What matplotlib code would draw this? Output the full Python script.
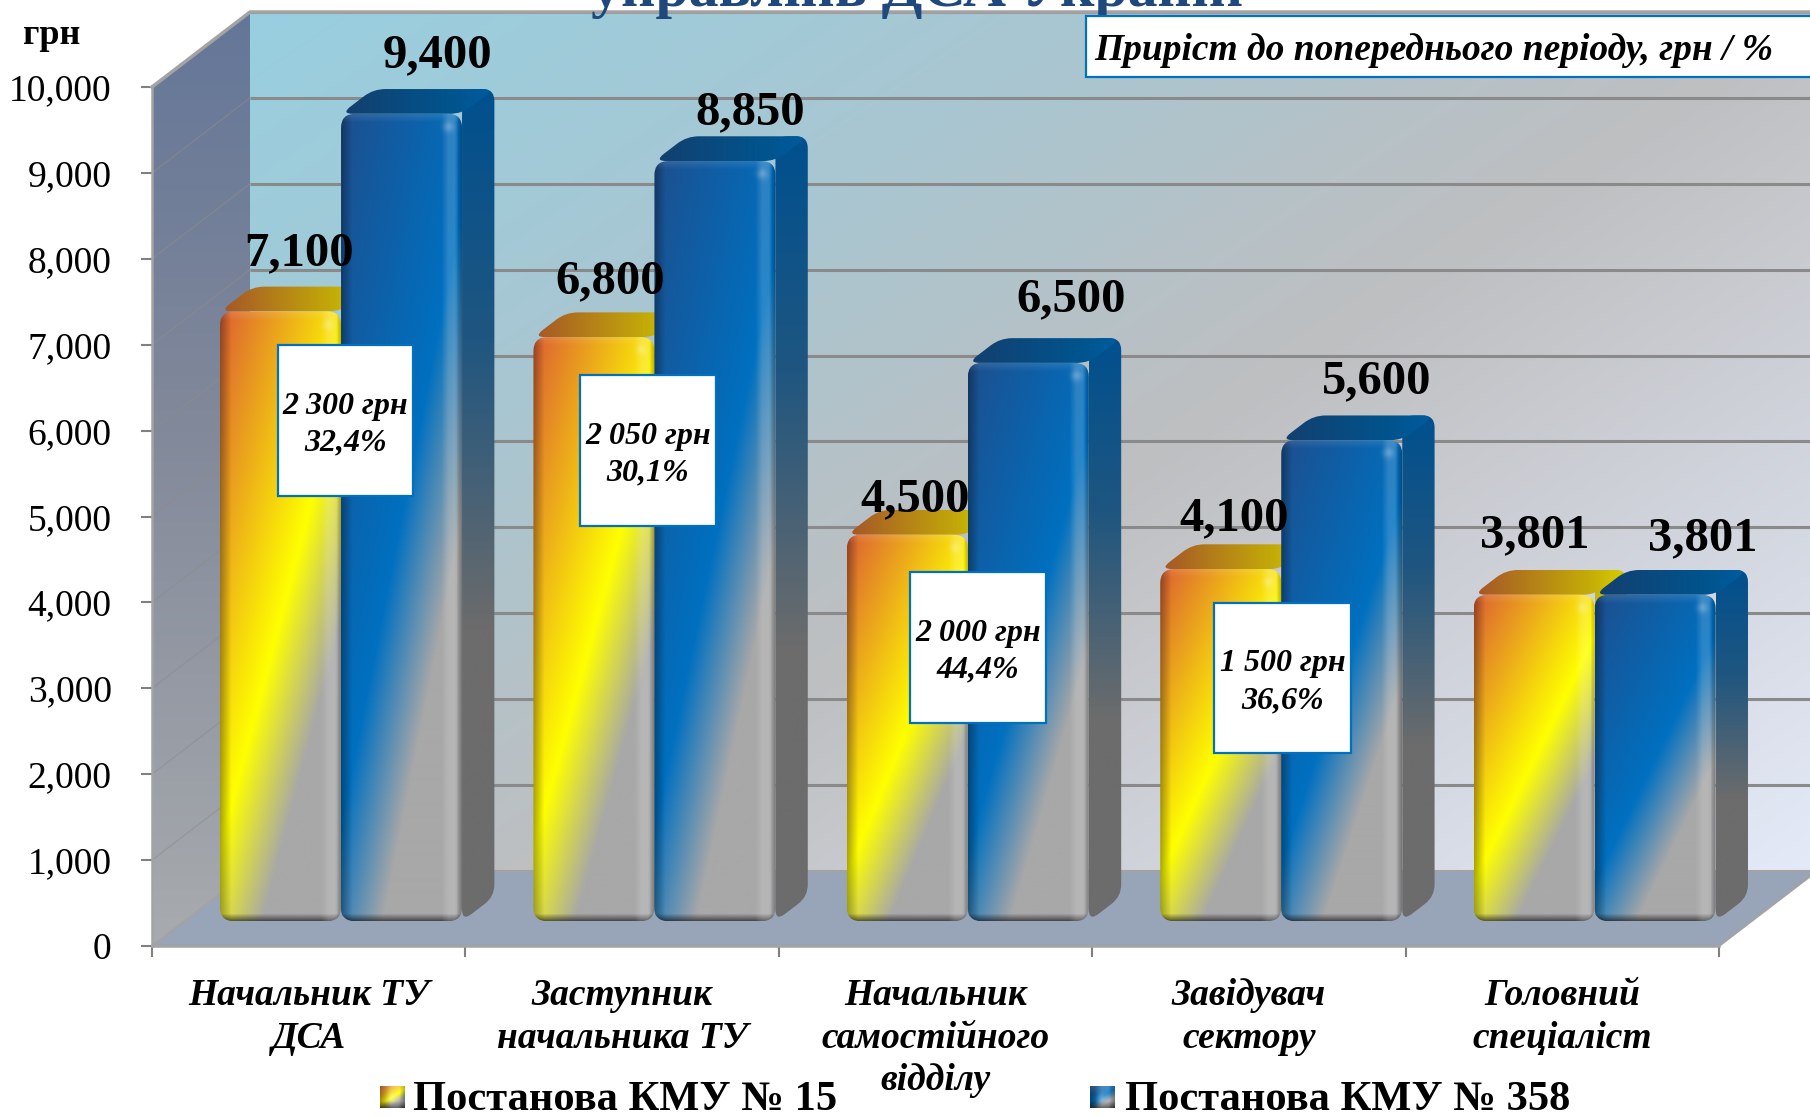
import numpy as np
import matplotlib
matplotlib.use('Agg')
import matplotlib.pyplot as plt
from matplotlib.colors import to_rgb
from matplotlib.path import Path
from matplotlib.patches import PathPatch, Rectangle
from matplotlib.ticker import StrMethodFormatter

plt.rcParams['font.family'] = ['Liberation Serif', 'DejaVu Serif']

# --- data ---
categories = ['Начальник ТУ\nДСА', 'Заступник\nначальника ТУ', 'Начальник\nсамостійного\nвідділу',
              'Завідувач\nсектору', 'Головний\nспеціаліст']
kmu_15 = [7100, 6800, 4500, 4100, 3801]
kmu_358 = [9400, 8850, 6500, 5600, 3801]
increase_uah = ['2 300 грн', '2 050 грн', '2 000 грн', '1 500 грн']
increase_pct = ['32,4%', '30,1%', '44,4%', '36,6%']
y_ticks = [0, 1000, 2000, 3000, 4000, 5000, 6000, 7000, 8000, 9000, 10000]

# --- layout (pixels of the 1810x1116 picture) ---
W, H = 1810, 1116
PLOT_L, PLOT_R, PLOT_T, PLOT_B = 152, 1719, 87, 946
SX = (PLOT_R - PLOT_L) / 5          # px per category
SY = (PLOT_B - PLOT_T) / 10000      # px per hryvnia
DX, DY = 98 / SX, 75 / SY           # full chart depth in data units
BAR_W = 121 / SX
BAR_D0, BAR_D1 = 0.33, 0.66         # bar front/back inside the depth

# per label pixel nudges from the bar top
nudge_15 = [(19, 58), (16, 56), (8, 35), (13, 51), (1, 59)]
nudge_358 = [(36, 59), (35, 49), (43, 64), (35, 59), (48, 56)]
# white boxes: left, top, right, bottom
boxes = [(278, 345, 413, 496), (580, 375, 716, 526), (910, 572, 1046, 723), (1214, 603, 1351, 753)]


def project(x, v, d):
    return x + d * DX, v + d * DY


def ramp(t, stops):
    # piecewise colour ramp over t in 0..1
    pos = [s[0] for s in stops]
    cols = np.array([to_rgb(s[1]) for s in stops])
    return np.stack([np.interp(t, pos, cols[:, i]) for i in range(3)], axis=-1)


def rounded(points, r=9):
    # closed path with corners rounded by r pixels, points in data units
    pts = np.array(points, dtype=float)
    n = len(pts)
    verts, codes = [], []
    for i in range(n):
        p, a, b = pts[i], pts[i - 1], pts[(i + 1) % n]
        va = (a - p) * [SX, SY]
        vb = (b - p) * [SX, SY]
        ra = min(r, np.hypot(*va) / 2)
        rb = min(r, np.hypot(*vb) / 2)
        p1 = p + va / np.hypot(*va) * ra / [SX, SY]
        p2 = p + vb / np.hypot(*vb) * rb / [SX, SY]
        verts += [p1, p, p2]
        codes += [Path.MOVETO if i == 0 else Path.LINETO, Path.CURVE3, Path.CURVE3]
    verts.append(verts[0])
    codes.append(Path.CLOSEPOLY)
    return Path(verts, codes)


def paint(ax, img, x0, x1, y0, y1, clip_path, z):
    im = ax.imshow(img, extent=(x0, x1, y0, y1), aspect='auto', origin='upper',
                   interpolation='bilinear', zorder=z)
    patch = PathPatch(clip_path, transform=ax.transData, fc='none', ec='none')
    ax.add_patch(patch)
    im.set_clip_box(fig.bbox)
    im.set_clip_path(patch)
    return im


def front_image(nx, ny, stops):
    u, v = np.meshgrid(np.linspace(0, 1, nx), np.linspace(0, 1, ny))
    t = 0.43 * u + 0.57 * v
    img = ramp(t, stops)
    xpx = u * nx
    ypx = v * ny
    # bevel: dark left and bottom, light stripe near the right edge
    img *= (0.68 + 0.32 * np.clip(xpx / 11, 0, 1))[..., None]
    img *= (0.45 + 0.55 * np.clip((ny - ypx) / 7, 0, 1))[..., None]
    light = np.clip((xpx - (nx - 20)) / 7, 0, 1) * np.clip(((nx - 3) - xpx) / 4, 0, 1) * 0.16
    img = img * (1 - light[..., None]) + light[..., None]
    img *= (0.72 + 0.28 * np.clip((nx - xpx) / 5, 0, 1))[..., None]
    top = np.clip(1 - ypx / 9, 0, 1)[..., None] * 0.12
    img = img * (1 - top) + top
    # small highlight on the top right corner
    spot = (np.exp(-((xpx - (nx - 13)) ** 2 + (ypx - 13) ** 2) / 30) * 0.25)[..., None]
    return np.clip(img * (1 - spot) + spot, 0, 1)


YELLOW = [(0, '#DC5F33'), (0.5, '#FFFF00'), (0.72, '#A8A8A8'), (1, '#A8A8A8')]
BLUE = [(0, '#1D4F8E'), (0.5, '#0070C0'), (0.72, '#A8A8A8'), (1, '#A8A8A8')]
YELLOW_SIDE = [(0, '#C9C000'), (0.55, '#8E8A40'), (1, '#6E6E6E')]
BLUE_SIDE = [(0, '#00508F'), (0.3, '#1F5680'), (0.65, '#6C6C6C'), (1, '#6C6C6C')]
YELLOW_TOP = [(0, '#A55528'), (0.75, '#C4AC08'), (1, '#D8D000')]
BLUE_TOP = [(0, '#133F6E'), (0.75, '#00558F'), (1, '#005C9F')]


def draw_bar(ax, xc, value, front, side, topc, z):
    x0, x1 = xc - BAR_W / 2, xc + BAR_W / 2
    fx0, fb = project(x0, 0, BAR_D0)
    fx1, ft = project(x1, value, BAR_D0)
    bx1, bt = project(x1, value, BAR_D1)
    bx0 = project(x0, value, BAR_D1)[0]
    bb = project(x1, 0, BAR_D1)[1]

    # side face, runs up under the top face so no notch shows at the back corner
    ny = int((bt - fb) * SY)
    t = np.linspace(0, 1, ny)[:, None].repeat(8, axis=1)
    path = rounded([(fx1, fb), (bx1, bb), (bx1, bt), (fx1, bt)], 12)
    paint(ax, ramp(t, side), fx1, bx1, fb, bt, path, z)

    # top face
    t = np.linspace(0, 1, 120)[None, :].repeat(8, axis=0)
    path = rounded([(fx0, ft), (fx1, ft), (bx1, bt), (bx0, bt)], 12)
    paint(ax, ramp(t, topc), fx0, bx1, ft, bt, path, z + 0.1)

    # front face
    nx, ny = int((fx1 - fx0) * SX), int((ft - fb) * SY)
    path = rounded([(fx0, fb), (fx1, fb), (fx1, ft), (fx0, ft)], 14)
    paint(ax, front_image(nx, ny, front), fx0, fx1, fb, ft, path, z + 0.2)
    return (fx0 + fx1) / 2, ft


fig = plt.figure(figsize=(W / 100, H / 100), dpi=100, facecolor='white')
ax = fig.add_axes([PLOT_L / W, 1 - PLOT_B / H, (PLOT_R - PLOT_L) / W, (PLOT_B - PLOT_T) / H])
ax.patch.set_visible(False)

# --- walls and floor ---
GREY = '#A3A3A3'
bx, tv = project(5, 10000, 1)
bx0, bv0 = project(0, 0, 1)
u, v = np.meshgrid(np.linspace(0, 1, 300), np.linspace(0, 1, 200))
wall = ramp(0.55 * u + 0.45 * v, [(0, '#98CFE0'), (0.3, '#A9C6D1'), (0.55, '#BEBFC1'), (1, '#E4EAF8')])
paint(ax, wall, bx0, bx, bv0, tv, Path([(bx0, bv0), (bx, bv0), (bx, tv), (bx0, tv), (bx0, bv0)]), 1)

t = np.linspace(0, 1, 200)[:, None].repeat(4, axis=1)
left = ramp(t, [(0, '#647698'), (0.45, '#82899A'), (1, '#A8ABAE')])
paint(ax, left, 0, bx0, 0, tv, Path([(0, 0), (bx0, bv0), (bx0, tv), (0, 10000), (0, 0)]), 1.1)

floor = [project(0, 0, 0), project(5, 0, 0), project(5, 0, 1), project(0, 0, 1)]
ax.add_patch(plt.Polygon(floor, closed=True, fc='#98A4B8', ec=GREY, lw=1.5, zorder=1.2, clip_on=False))

# --- grid ---
for tick in y_ticks[1:]:
    ax.plot([bx0, bx], [tick + DY] * 2, color='#8A8A8A', lw=2.2, zorder=1.5, clip_on=False,
            solid_capstyle='butt')
    ax.plot([0, bx0], [tick, tick + DY], color='#8C8C8C', lw=1, alpha=0.55, zorder=1.5, clip_on=False)
ax.plot([0, bx0, bx], [10000, 10000 + DY, 10000 + DY], color=GREY, lw=2.5, zorder=1.6, clip_on=False)

# --- bars ---
for i in range(len(categories)):
    xc = i + 0.5
    tops = []
    tops.append(draw_bar(ax, xc - BAR_W / 2, kmu_15[i], YELLOW, YELLOW_SIDE, YELLOW_TOP, 3 + i))
    tops.append(draw_bar(ax, xc + BAR_W / 2, kmu_358[i], BLUE, BLUE_SIDE, BLUE_TOP, 3.5 + i))
    for (lx, ly), val, nud in zip(tops, (kmu_15[i], kmu_358[i]), (nudge_15[i], nudge_358[i])):
        ax.annotate(f'{val:,}', (lx, ly), xytext=(nud[0] * 0.72, nud[1] * 0.72), textcoords='offset points',
                    ha='center', va='center', fontsize=35, fontweight='bold', color='black',
                    zorder=20, annotation_clip=False)

# --- axes ---
ax.set_xlim(0, 5)
ax.set_ylim(0, 10000)
ax.set_xticks(range(6))
ax.set_xticklabels([])
ax.set_yticks(y_ticks)
ax.yaxis.set_major_formatter(StrMethodFormatter('{x:,.0f}'))
ax.tick_params(axis='y', length=8, width=1.5, color='#808080', pad=21, labelsize=27)
ax.tick_params(axis='x', length=8, width=1.5, color='#808080')
for side in ('top', 'right'):
    ax.spines[side].set_visible(False)
for side in ('left', 'bottom'):
    ax.spines[side].set_color(GREY)
    ax.spines[side].set_linewidth(1.8)

# category labels
for i, label in enumerate(categories):
    ax.annotate(label, (i + 0.5, 0), xytext=(0, -(978 - PLOT_B) * 0.72), textcoords='offset points',
                ha='center', va='top', fontsize=27, fontweight='bold', fontstyle='italic',
                linespacing=1.28, annotation_clip=False)


def fx(x):
    return x / W


def fy(y):
    return 1 - y / H


# --- title cut by the top edge ---
fig.text(fx(917), fy(6), 'управлінь ДСА України', ha='center', va='baseline', fontsize=43,
         fontweight='bold', color='#1F497D', zorder=0.5)
fig.text(fx(52), fy(35), 'грн', ha='center', va='center', fontsize=26, fontweight='bold')

# --- increase boxes ---
for (l, t_, r, b), uah, pct in zip(boxes, increase_uah, increase_pct):
    fig.add_artist(Rectangle((fx(l), fy(b)), (r - l) / W, (b - t_) / H, transform=fig.transFigure,
                             fc='white', ec='#0070C0', lw=1.6, zorder=5))
    fig.text(fx((l + r) / 2), fy((t_ + b) / 2 + 4), uah + '\n' + pct, ha='center', va='center', fontsize=23,
             fontweight='bold', fontstyle='italic', linespacing=1.36, zorder=6)

fig.add_artist(Rectangle((fx(1086), fy(77)), 760 / W, 61 / H, transform=fig.transFigure,
                         fc='white', ec='#0070C0', lw=1.6, zorder=5))
fig.text(fx(1094), fy(50), 'Приріст до попереднього періоду, грн / %', ha='left', va='center', fontsize=27,
         fontweight='bold', fontstyle='italic', zorder=6)

# --- legend ---
for sx_, tx_, label, stops, side in ((380, 413, 'Постанова КМУ № 15', YELLOW, YELLOW_TOP),
                                     (1090, 1125, 'Постанова КМУ № 358', BLUE, BLUE_TOP)):
    sw = fig.add_axes([fx(sx_), fy(1108), 25 / W, 22 / H])
    sw.imshow(front_image(25, 22, stops), aspect='auto', interpolation='bilinear')
    sw.axis('off')
    fig.text(fx(tx_), fy(1100), label, ha='left', va='center', fontsize=30.6, fontweight='bold')

fig.savefig('out.png', dpi=100, facecolor='white')
